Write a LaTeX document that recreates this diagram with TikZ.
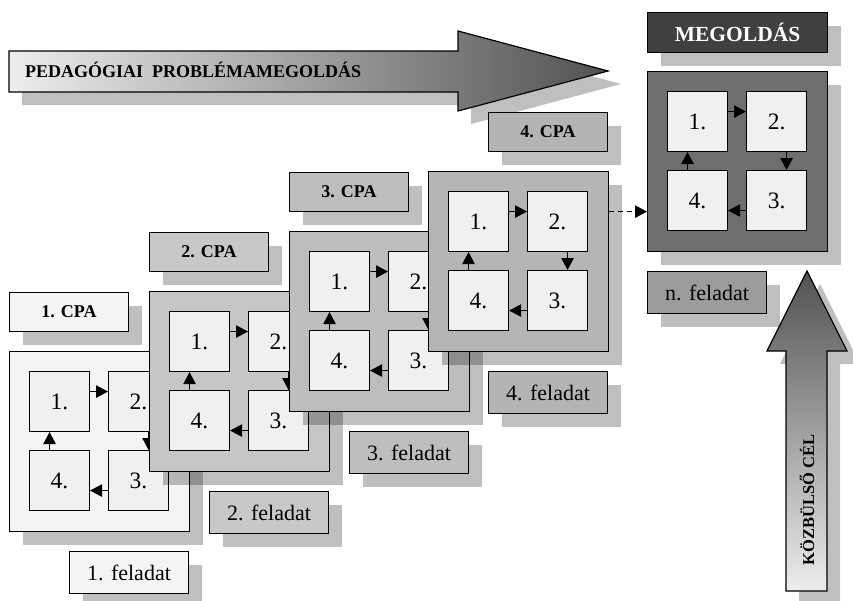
\documentclass[tikz,border=0pt]{standalone}
\usepackage{fontspec}
\setmainfont{Liberation Serif}
\usetikzlibrary{shadows,arrows.meta,calc}
\definecolor{pone}{HTML}{F4F4F4}
\definecolor{ptwo}{HTML}{C6C6C6}
\definecolor{pthree}{HTML}{BDBDBD}
\definecolor{pfour}{HTML}{B5B5B5}
\definecolor{pn}{HTML}{6E6E6E}
\definecolor{lone}{HTML}{F4F4F4}
\definecolor{ltwo}{HTML}{C8C8C8}
\definecolor{lthree}{HTML}{BEBEBE}
\definecolor{lfour}{HTML}{B4B4B4}
\definecolor{ln}{HTML}{9C9C9C}
\definecolor{boxfill}{HTML}{F0F0F0}
\definecolor{solfill}{HTML}{404040}
\tikzset{
  shad/.style={drop shadow={shadow xshift=13pt,shadow yshift=-13pt,fill=black,opacity=.25}},
  panel/.style={draw,line width=1.2pt,minimum width=180pt,minimum height=180pt,anchor=north west,inner sep=0pt,shad},
  ibox/.style={draw,line width=1.1pt,fill=boxfill,minimum size=60pt,anchor=north west,inner sep=0pt,font=\fontsize{23.5}{26}\selectfont},
  cpalabel/.style={draw,line width=1.1pt,minimum width=119pt,minimum height=39pt,anchor=north west,inner sep=0pt,shad,font=\fontsize{18}{20}\selectfont\bfseries},
  fellabel/.style={draw,line width=1.1pt,minimum width=119pt,minimum height=42pt,anchor=north west,inner sep=0pt,shad,font=\fontsize{22}{24}\selectfont},
  arr/.style={line width=1pt,-{Triangle[length=12pt,width=12.5pt]}},
  bigarrow/.style={draw,line width=1.2pt,shad},
}
\newcommand\cpapanel[4]{%
  \node[panel,fill=#4] (#1) at (#2,#3) {};
  \node[ibox] (#1a) at (#2+20,#3+20) {1.};
  \node[ibox] (#1b) at (#2+99,#3+20) {2.};
  \node[ibox] (#1c) at (#2+99,#3+99) {3.};
  \node[ibox] (#1d) at (#2+20,#3+99) {4.};
  \draw[arr] ([yshift=10pt]#1a.east) -- ([yshift=10pt]#1b.west);
  \draw[arr] ([xshift=10pt]#1b.south) -- ([xshift=10pt]#1c.north);
  \draw[arr] ([yshift=-10pt]#1c.west) -- ([yshift=-10pt]#1d.east);
  \draw[arr] ([xshift=-10pt]#1d.north) -- ([xshift=-10pt]#1a.south);
}
\begin{document}
\begin{tikzpicture}[x=1pt,y=-1pt]
\useasboundingbox (0,0) rectangle (853,600);
% big horizontal arrow
\path[bigarrow,left color=black!7,right color=black!68]
  (9,51) -- (458,51) -- (458,31) -- (608,71) -- (458,111) -- (458,92) -- (9,92) -- cycle;
\node[anchor=base west,inner sep=0pt,font=\fontsize{18}{20}\selectfont\bfseries] (ptitle) at (25,77) {PEDAGÓGIAI\ \ PROBLÉMAMEGOLDÁS};
% vertical arrow
\path[bigarrow,top color=black!68,bottom color=black!7]
  (786,591) -- (786,351) -- (767,351) -- (807,271) -- (847,351) -- (827,351) -- (827,591) -- cycle;
\node[rotate=90,inner sep=0pt,font=\fontsize{16.5}{18}\selectfont\bfseries] (ktitle) at (807,500) {KÖZBÜLSŐ CÉL};
% stage 1
\node[cpalabel,fill=lone] (cpa1) at (9,292) {1. CPA};
\cpapanel{pa}{9}{351}{pone}
\node[fellabel,fill=lone] (fel1) at (69,551) {1. feladat};
% stage 2
\node[cpalabel,fill=ltwo] (cpa2) at (149,232) {2. CPA};
\cpapanel{pb}{149}{291}{ptwo}
\node[fellabel,fill=ltwo] (fel2) at (209,491) {2. feladat};
% stage 3
\node[cpalabel,fill=lthree] (cpa3) at (289,172) {3. CPA};
\cpapanel{pc}{289}{231}{pthree}
\node[fellabel,fill=lthree] (fel3) at (349,431) {3. feladat};
% stage 4
\node[cpalabel,fill=lfour] (cpa4) at (488,112) {4. CPA};
\cpapanel{pd}{428}{171}{pfour}
\node[fellabel,fill=lfour] (fel4) at (488,371) {4. feladat};
% solution
\node[draw,line width=1.1pt,minimum width=180pt,minimum height=40pt,anchor=north west,inner sep=0pt,shad,fill=solfill,text=white,font=\fontsize{21.5}{24}\selectfont\bfseries] (sol) at (647,12) {MEGOLDÁS};
\cpapanel{pn}{647}{71}{pn}
\node[fellabel,fill=ln] (feln) at (647,271) {n. feladat};
% dashed connector
\draw[arr,dash pattern=on 5pt off 4pt] ([yshift=50pt]pd.east) -- ([yshift=-50pt]pn.west);
\end{tikzpicture}
\end{document}
